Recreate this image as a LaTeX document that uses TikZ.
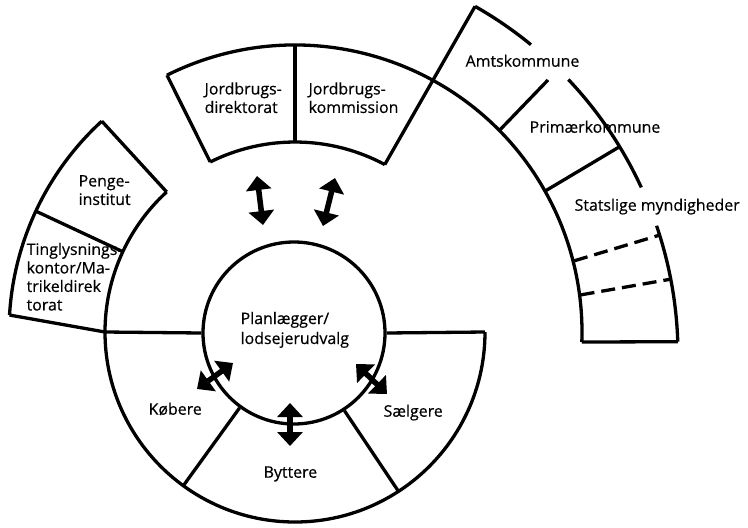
\documentclass[tikz,border=0pt]{standalone}
\usepackage{fontspec}
\setmainfont{Open Sans}
\newfontfamily\lblfont{Open Sans}[FakeBold=0.5]
\usetikzlibrary{arrows.meta,calc}
\begin{document}
\begin{tikzpicture}[x=1pt,y=1pt,line width=3.3pt,
  lbl/.style={font=\lblfont\fontsize{15.9}{18.5}\selectfont,align=left,inner sep=0pt,anchor=west},
  dbl/.style={{Triangle[length=14pt,width=25pt]}-{Triangle[length=14pt,width=25pt]},line width=5.5pt},
  dsh/.style={dash pattern=on 14pt off 7pt}]
\useasboundingbox (0,0) rectangle (748,-528);
\coordinate (C) at (295,-332);
\coordinate (R) at (277,-355);
% centre circle
\node[circle,draw,minimum size=182pt,inner sep=0pt] (plan) at (294,-333) {};
% lower half ring
\coordinate (L0) at ($(C)+(180:190)$);
\coordinate (R0) at ($(C)+(0:190)$);
\draw (L0) arc[start angle=180,end angle=360,radius=190];
\draw (L0) -- (plan.west);
\draw (plan.east) -- (R0);
\coordinate (d1) at ($(C)+(-126:190)$);
\coordinate (d2) at ($(C)+(-57:190)$);
\draw (plan.-126) -- (d1);
\draw (plan.-57) -- (d2);
% left boxes
\coordinate (pi) at ($(C)+(132.5:190)$);
\coordinate (po) at ($(C)+(132.5:286)$);
\coordinate (ti) at ($(C)+(155:190)$);
\coordinate (to) at ($(C)+(155:286)$);
\coordinate (tb) at ($(C)+(176.6:286)$);
\draw (pi) arc[start angle=132.5,end angle=180,radius=190];
\draw (po) arc[start angle=132.5,end angle=176.6,radius=286];
\draw (pi) -- (po);
\draw (ti) -- (to);
\draw (L0) -- (tb);
% Jordbrugs boxes
\coordinate (ji1) at ($(C)+(116.5:190)$);
\coordinate (jo1) at ($(C)+(116.5:287)$);
\coordinate (ji2) at ($(C)+(90:190)$);
\coordinate (jo2) at ($(C)+(90:287)$);
\coordinate (ji3) at ($(C)+(61.8:190)$);
\draw (ji3) arc[start angle=61.8,end angle=116.5,radius=190];
\draw (jo1) arc[start angle=116.5,end angle=-2,radius=287];
\draw (ji1) -- (jo1);
\draw (ji2) -- (jo2);
% right boxes
\coordinate (A0) at ($(R)+(60.4:401)$);
\coordinate (A1) at ($(R)+(43.4:401)$);
\coordinate (A2) at ($(R)+(31.3:401)$);
\coordinate (A3) at ($(R)+(18.8:401)$);
\coordinate (A4) at ($(R)+(17.4:401)$);
\coordinate (A5) at ($(R)+(10.9:401)$);
\coordinate (A6) at ($(R)+(1.9:401)$);
\draw (ji3) -- (A0);
\draw (A0) arc[start angle=60.4,end angle=50.7,radius=401];
\draw (A1) arc[start angle=43.4,end angle=24.7,radius=401];
\draw (A3) arc[start angle=18.8,end angle=1.9,radius=401];
\coordinate (B1) at ($(C)+(44.6:287)$);
\coordinate (B1o) at (548,-80);
\coordinate (B2) at ($(C)+(29.4:287)$);
\coordinate (B3) at ($(C)+(14.3:288)$);
\coordinate (B4) at ($(C)+(7.4:288)$);
\coordinate (B5) at ($(C)+(-2:287)$);
\draw (B1) -- (B1o);
\draw (B2) -- (A2);
\draw[dsh] (B3) -- (A4);
\draw[dsh] (B4) -- (A5);
\draw (B5) -- (A6);
% arrows
\coordinate (a1s) at (257,-176); \coordinate (a1e) at (263,-225);
\coordinate (a2s) at (335,-178); \coordinate (a2e) at (323,-226);
\coordinate (a3s) at (233,-363); \coordinate (a3e) at (197,-389);
\coordinate (a4s) at (356,-364); \coordinate (a4e) at (387,-394);
\coordinate (a5s) at (290,-403); \coordinate (a5e) at (290,-446);
\draw[dbl] (a1s) -- (a1e);
\draw[dbl] (a2s) -- (a2e);
\draw[dbl] (a3s) -- (a3e);
\draw[dbl] (a4s) -- (a4e);
\draw[dbl] (a5s) -- (a5e);
% labels
\node[lbl] (penge) at (77,-192) {\strut Penge-\\\strut institut};
\node[lbl] (tingl) at (25,-279) {\strut Tinglysnings-\\\strut kontor/Ma-\\\strut trikeldirek\\\strut torat};
\node[lbl] (jdir) at (203,-100) {\strut Jordbrugs-\\\strut direktorat};
\node[lbl] (jkom) at (307,-100) {\strut Jordbrugs-\\\strut kommission};
\node[lbl] (amts) at (464,-63) {\strut Amtskommune};
\node[lbl] (prim) at (528,-129) {\strut Primærkommune};
\node[lbl] (stat) at (573,-207) {\strut Statslige myndigheder};
\node[lbl,font=\lblfont\fontsize{15.9}{20}\selectfont] (plantxt) at (239,-330) {\strut Planlægger/\\\strut lodsejerudvalg};
\node[lbl] (kob) at (147,-411) {\strut Købere};
\node[lbl] (sal) at (382,-413) {\strut Sælgere};
\node[lbl] (byt) at (262,-474) {\strut Byttere};
\end{tikzpicture}
\end{document}
